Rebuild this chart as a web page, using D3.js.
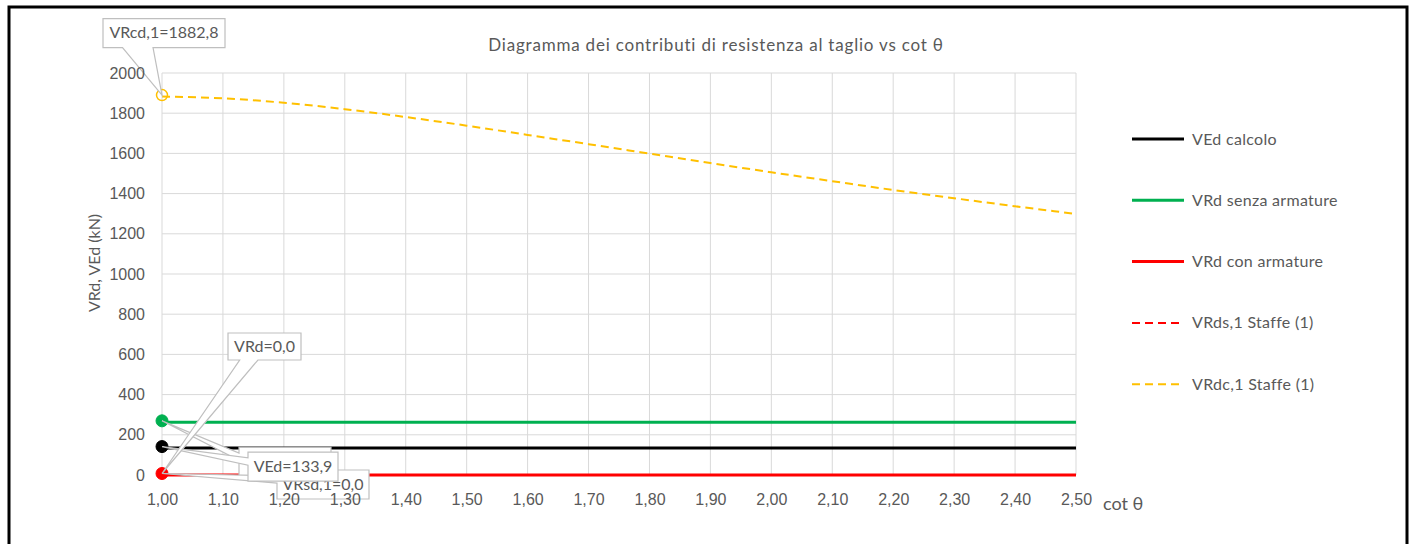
<!DOCTYPE html>
<html>
<head>
<meta charset="utf-8">
<script src="https://cdn.jsdelivr.net/npm/d3@7/dist/d3.min.js"></script>
<style>
    body { margin: 0; background: #fff; }
    svg { display: block; font-family: Lato, 'Open Sans', sans-serif; }
</style>
</head>
<body>
<svg id="chart" width="1415" height="544"></svg>
<script>
'use strict';

// cot theta values (x axis)
var cotTheta = [1.0, 1.1, 1.2, 1.3, 1.4, 1.5, 1.6, 1.7, 1.8, 1.9, 2.0, 2.1, 2.2, 2.3, 2.4, 2.5];

// series (kN)
var vEdCalcolo = [133.9, 133.9, 133.9, 133.9, 133.9, 133.9, 133.9, 133.9, 133.9, 133.9, 133.9, 133.9, 133.9, 133.9, 133.9, 133.9];
var vRdSenza = [262, 262, 262, 262, 262, 262, 262, 262, 262, 262, 262, 262, 262, 262, 262, 262];
var vRdCon = [0, 0, 0, 0, 0, 0, 0, 0, 0, 0, 0, 0, 0, 0, 0, 0];
var vRds1 = [0, 0, 0, 0, 0, 0, 0, 0, 0, 0, 0, 0, 0, 0, 0, 0];
var vRdc1 = [1882.8, 1874, 1852, 1820, 1781, 1738, 1692, 1646, 1599, 1552, 1506, 1462, 1418, 1377, 1337, 1299];

var seriesNames = ['VEd calcolo', 'VRd senza armature', 'VRd con armature', 'VRds,1 Staffe (1)', 'VRdc,1 Staffe (1)'];
var xTicks = [1.0, 1.1, 1.2, 1.3, 1.4, 1.5, 1.6, 1.7, 1.8, 1.9, 2.0, 2.1, 2.2, 2.3, 2.4, 2.5];
var yTicks = [0, 200, 400, 600, 800, 1000, 1200, 1400, 1600, 1800, 2000];

var chartTitle = 'Diagramma dei contributi di resistenza al taglio vs cot \u03b8';
var yTitle = 'VRd, VEd (kN)';
var xTitle = 'cot \u03b8';

var textColor = '#595959',
    gridColor = '#d9d9d9',
    calloutStroke = '#bfbfbf';

var series = [
    { name: seriesNames[0], values: vEdCalcolo, color: '#000000', dash: null, width: 3, marker: 'fill' },
    { name: seriesNames[1], values: vRdSenza, color: '#00b050', dash: null, width: 3, marker: 'fill' },
    { name: seriesNames[2], values: vRdCon, color: '#ff0000', dash: null, width: 3, marker: 'fill' },
    { name: seriesNames[3], values: vRds1, color: '#ff0000', dash: '8,5', width: 2, marker: null },
    { name: seriesNames[4], values: vRdc1, color: '#ffc000', dash: '8,5', width: 2, marker: 'hollow' }
];

var svg = d3.select('#chart'),
    plot = { left: 162, right: 1076, top: 73, bottom: 475 };

var x = d3.scaleLinear().domain([1, 2.5]).range([plot.left, plot.right]),
    y = d3.scaleLinear().domain([0, 2000]).range([plot.bottom, plot.top]);

function comma(v, digits) {
    return d3.format('.' + digits + 'f')(v).replace('.', ',');
}

//frame around the whole chart
svg.append('path')
    .attr('d', 'M9,544 V7 H1407 V544')
    .attr('fill', 'none')
    .attr('stroke', '#000')
    .attr('stroke-width', 3);

//gridlines
svg.append('g')
    .selectAll('line')
    .data(yTicks)
    .enter().append('line')
    .attr('x1', plot.left)
    .attr('x2', plot.right)
    .attr('y1', d => y(d))
    .attr('y2', d => y(d))
    .attr('stroke', gridColor)
    .attr('stroke-width', 1);

svg.append('g')
    .selectAll('line')
    .data(xTicks)
    .enter().append('line')
    .attr('x1', d => x(d))
    .attr('x2', d => x(d))
    .attr('y1', plot.top)
    .attr('y2', plot.bottom)
    .attr('stroke', gridColor)
    .attr('stroke-width', 1);

//titles
svg.append('text')
    .attr('x', 716)
    .attr('y', 51)
    .attr('text-anchor', 'middle')
    .attr('fill', textColor)
    .style('font-size', '17px')
    .style('letter-spacing', '0.8px')
    .text(chartTitle);

svg.append('text')
    .attr('transform', 'translate(100,263) rotate(-90)')
    .attr('text-anchor', 'middle')
    .attr('fill', textColor)
    .style('font-size', '16px')
    .text(yTitle);

svg.append('text')
    .attr('x', 1103)
    .attr('y', 510)
    .attr('fill', textColor)
    .style('font-size', '18px')
    .text(xTitle);

//series lines
var line = d3.line()
    .x((d, i) => x(cotTheta[i]))
    .y(d => y(d))
    .curve(d3.curveMonotoneX);

//draw the dashed ones first so the solid red sits on top
[3, 4, 0, 1, 2].forEach(function (k) {
    var s = series[k];
    svg.append('path')
        .datum(s.values)
        .attr('d', line)
        .attr('fill', 'none')
        .attr('stroke', s.color)
        .attr('stroke-width', s.width)
        .attr('stroke-dasharray', s.dash);
});

//markers at cot theta = 1
series.forEach(function (s) {
    if (!s.marker) {
        return;
    }
    svg.append('circle')
        .attr('cx', x(cotTheta[0]))
        .attr('cy', y(s.values[0]) - 1.5)
        .attr('r', s.marker === 'fill' ? 6 : 5.5)
        .attr('fill', s.marker === 'fill' ? s.color : 'none')
        .attr('stroke', s.color)
        .attr('stroke-width', s.marker === 'fill' ? 1 : 1.5);
});

//data callouts, box offset relative to the marked point
//(the green one is fully hidden behind the VEd callout, so it shows no text)
var callouts = [
    { label: 'VRcd,1=' + comma(vRdc1[0], 1), value: vRdc1[0], dx: -59, dy: -78, w: 122, h: 29, side: 'bottom' },
    { label: '', value: vRdSenza[0], dx: 77, dy: 25, w: 92, h: 29, side: 'left' },
    { label: 'VRsd,1=' + comma(vRds1[0], 1), value: vRds1[0], dx: 115, dy: -5, w: 92, h: 29, side: 'left' },
    { label: 'VEd=' + comma(vEdCalcolo[0], 1), value: vEdCalcolo[0], dx: 86, dy: 4, w: 90, h: 29, side: 'left' },
    { label: 'VRd=' + comma(vRdCon[0], 1), value: vRdCon[0], dx: 66, dy: -142, w: 73, h: 27, side: 'bottom' }
];

callouts.forEach(function (c) {
    var ax = x(cotTheta[0]),
        ay = y(c.value) - 1.5,
        x0 = ax + c.dx,
        y0 = y(c.value) + c.dy,
        x1 = x0 + c.w,
        y1 = y0 + c.h,
        path;

    if (c.side === 'bottom') {
        path = 'M' + x0 + ',' + y0 + 'H' + x1 + 'V' + y1 +
            'H' + (x0 + c.w * 0.41) + 'L' + ax + ',' + ay + 'L' + (x0 + c.w * 0.16) + ',' + y1 +
            'H' + x0 + 'Z';
    } else {
        path = 'M' + x0 + ',' + y0 + 'H' + x1 + 'V' + y1 + 'H' + x0 +
            'V' + (y0 + c.h * 0.45) + 'L' + ax + ',' + ay + 'L' + x0 + ',' + (y0 + c.h * 0.2) + 'Z';
    }

    svg.append('path')
        .attr('d', path)
        .attr('fill', '#fff')
        .attr('stroke', calloutStroke)
        .attr('stroke-width', 1.2);

    if (c.label) {
        svg.append('text')
            .attr('x', (x0 + x1) / 2)
            .attr('y', (y0 + y1) / 2 + 5)
            .attr('text-anchor', 'middle')
            .attr('fill', textColor)
            .style('font-size', '16px')
            .text(c.label);
    }
});

//axes (tick labels sit above the callouts)
var yAxis = svg.append('g')
    .attr('transform', 'translate(' + plot.left + ',0)')
    .call(d3.axisLeft(y).tickValues(yTicks).tickSize(0).tickPadding(17).tickFormat(d3.format('d')));
var xAxis = svg.append('g')
    .attr('transform', 'translate(0,' + plot.bottom + ')')
    .call(d3.axisBottom(x).tickValues(xTicks).tickSize(0).tickPadding(19).tickFormat(d => comma(d, 2)));

[xAxis, yAxis].forEach(function (ax) {
    ax.select('.domain').remove();
    ax.selectAll('text')
        .attr('fill', textColor)
        .style('font-size', '16px');
});

//legend
var legend = svg.append('g')
    .selectAll('g')
    .data(series)
    .enter().append('g')
    .attr('transform', (d, i) => 'translate(1132,' + (139 + i * 61.3) + ')');

legend.append('line')
    .attr('x1', 0)
    .attr('x2', 52)
    .attr('stroke', d => d.color)
    .attr('stroke-width', d => d.dash ? 2 : 3)
    .attr('stroke-dasharray', d => d.dash);

legend.append('text')
    .attr('x', 60)
    .attr('y', 5.5)
    .attr('fill', textColor)
    .style('font-size', '16px')
    .style('letter-spacing', '0.3px')
    .text(d => d.name);
</script>
</body>
</html>
